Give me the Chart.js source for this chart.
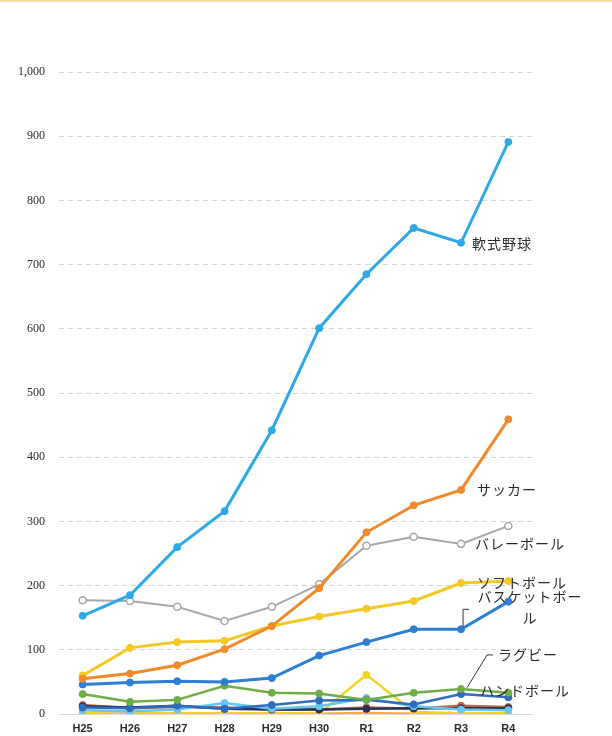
<!DOCTYPE html>
<html>
<head>
<meta charset="utf-8">
<script src="https://cdn.jsdelivr.net/npm/chart.js@4/dist/chart.umd.min.js"></script>
<style>
  html, body { margin: 0; padding: 0; background: #fff; }
  canvas { display: block; }
</style>
</head>
<body>
<canvas id="myChart" width="612" height="736"></canvas>
<script>
// years on the x axis
const years = ['H25', 'H26', 'H27', 'H28', 'H29', 'H30', 'R1', 'R2', 'R3', 'R4'];

// values
const nanshiki = [153, 185, 260, 316, 442, 601, 685, 757, 734, 891];
const soccer = [55, 63, 76, 101, 137, 196, 283, 325, 349, 459];
const volley = [177, 176, 167, 145, 167, 202, 262, 276, 265, 293];
const softball = [60, 103, 112, 114, 137, 152, 164, 176, 204, 207];
const basket = [46, 49, 51, 50, 56, 91, 112, 132, 132, 175];
const handball = [31, 19, 22, 44, 33, 32, 22, 33, 39, 33];
const rugby = [10, 9, 13, 8, 14, 21, 22, 15, 31, 26];
const other1 = [6, 4, 7, 17, 8, 12, 25, 12, 7, 6];
const other2 = [12, 10, 13, 8, 7, 7, 8, 9, 9, 9];
const other3 = [14, 9, 11, 10, 7, 7, 10, 8, 13, 11];
const other4 = [1, 1, 1, 1, 1, 1, 61, 3, 1, 1];
const other5 = [0, 0, 0, 1, 0, 0, 1, 0, 0, 0];

// y axis
const yMin = 0;
const yMax = 1000;
const yStep = 100;

// text next to the lines: anchored to a category + value, dx in px
const notes = [
    { text: ['軟式野球'], at: 'R3', value: 733, dx: 11 },
    { text: ['サッカー'], at: 'R3', value: 350, dx: 16 },
    { text: ['バレーボール'], at: 'R3', value: 266, dx: 14 },
    { text: ['ソフトボール'], at: 'R3', value: 204, dx: 16 },
    { text: ['バスケットボー', 'ル'], at: 'R3', value: 166, dx: 69, align: 'center' },
    { text: ['ラグビー'], at: 'R3', value: 92, dx: 37 },
    { text: ['ハンドボール'], at: 'R3', value: 37, dx: 19 },
];
const leaders = [
    [['R3', 163, 8], ['R3', 163, 2], ['R3', 136, 2]],
    [['R3', 92, 32], ['R3', 92, 26], ['R3', 41, 6]],
];

function line(label, data, color, opts) {
    return Object.assign({
        label: label,
        data: data,
        borderColor: color,
        backgroundColor: color,
        pointBackgroundColor: color,
        pointBorderColor: color,
        borderWidth: 2.5,
        pointRadius: 3.5,
        pointBorderWidth: 1,
        tension: 0,
    }, opts || {});
}

const notesPlugin = {
    id: 'notes',
    afterDatasetsDraw(chart) {
        const ctx = chart.ctx;
        const xs = chart.scales.x;
        const ys = chart.scales.y;
        ctx.save();
        // thin scan frame at the top
        ctx.fillStyle = '#f7dca6';
        ctx.fillRect(0, 0, chart.width, 2);

        ctx.strokeStyle = '#333';
        ctx.lineWidth = 1;
        leaders.forEach(pts => {
            ctx.beginPath();
            pts.forEach((p, i) => {
                const px = xs.getPixelForValue(years.indexOf(p[0])) + p[2];
                const py = ys.getPixelForValue(p[1]);
                if (i === 0) ctx.moveTo(px, py); else ctx.lineTo(px, py);
            });
            ctx.stroke();
        });

        ctx.fillStyle = '#2a2a2a';
        ctx.font = '14px "Noto Sans CJK JP"';
        ctx.letterSpacing = '1px';
        ctx.textBaseline = 'middle';
        notes.forEach(n => {
            const px = xs.getPixelForValue(years.indexOf(n.at)) + n.dx;
            const py = ys.getPixelForValue(n.value);
            ctx.textAlign = n.align || 'left';
            const lh = 21;
            const top = py - (n.text.length - 1) * lh / 2;
            n.text.forEach((t, i) => ctx.fillText(t, px, top + i * lh));
        });
        ctx.restore();
    }
};

new Chart(document.getElementById('myChart'), {
    type: 'line',
    data: {
        labels: years,
        datasets: [
            line('軟式野球', nanshiki, '#2ea8e6', { borderWidth: 3 }),
            line('サッカー', soccer, '#f08a2c', { borderWidth: 3 }),
            line('バレーボール', volley, '#a8a8a8', { borderWidth: 2, pointBackgroundColor: '#fff', pointBorderWidth: 1.5 }),
            line('ソフトボール', softball, '#f6c823', { borderWidth: 3 }),
            line('バスケットボール', basket, '#2c7fd2', { borderWidth: 3 }),
            line('ハンドボール', handball, '#6fae45'),
            line('ラグビー', rugby, '#2f6cc0'),
            line('系列8', other1, '#66c6ee'),
            line('系列9', other2, '#25325c'),
            line('系列10', other3, '#c9643a'),
            line('系列11', other4, '#f4d322'),
            line('系列12', other5, '#f0b02e', { borderWidth: 3 }),
        ]
    },
    options: {
        responsive: false,
        animation: false,
        devicePixelRatio: 1,
        layout: { padding: { top: 72, right: 80, left: 0, bottom: 0 } },
        plugins: {
            legend: { display: false },
            tooltip: { enabled: false },
        },
        scales: {
            x: {
                offset: true,
                grid: { display: false, drawTicks: false },
                border: { display: true, color: '#d9d9d9' },
                ticks: {
                    padding: 8,
                    color: '#2b2b2b',
                    font: { family: '"Liberation Sans"', size: 11, weight: 'bold' },
                },
                afterFit: (axis) => { axis.height = 22; },
            },
            y: {
                min: yMin,
                max: yMax,
                grid: {
                    drawTicks: false,
                    color: '#d4d4d4',
                    lineWidth: 1,
                },
                border: { display: false, dash: [5, 4] },
                ticks: {
                    stepSize: yStep,
                    padding: 14,
                    color: '#2b2b2b',
                    font: { family: '"Liberation Serif"', size: 12 },
                },
                afterFit: (axis) => { axis.width = 59; },
            }
        }
    },
    plugins: [notesPlugin]
});
</script>
</body>
</html>
